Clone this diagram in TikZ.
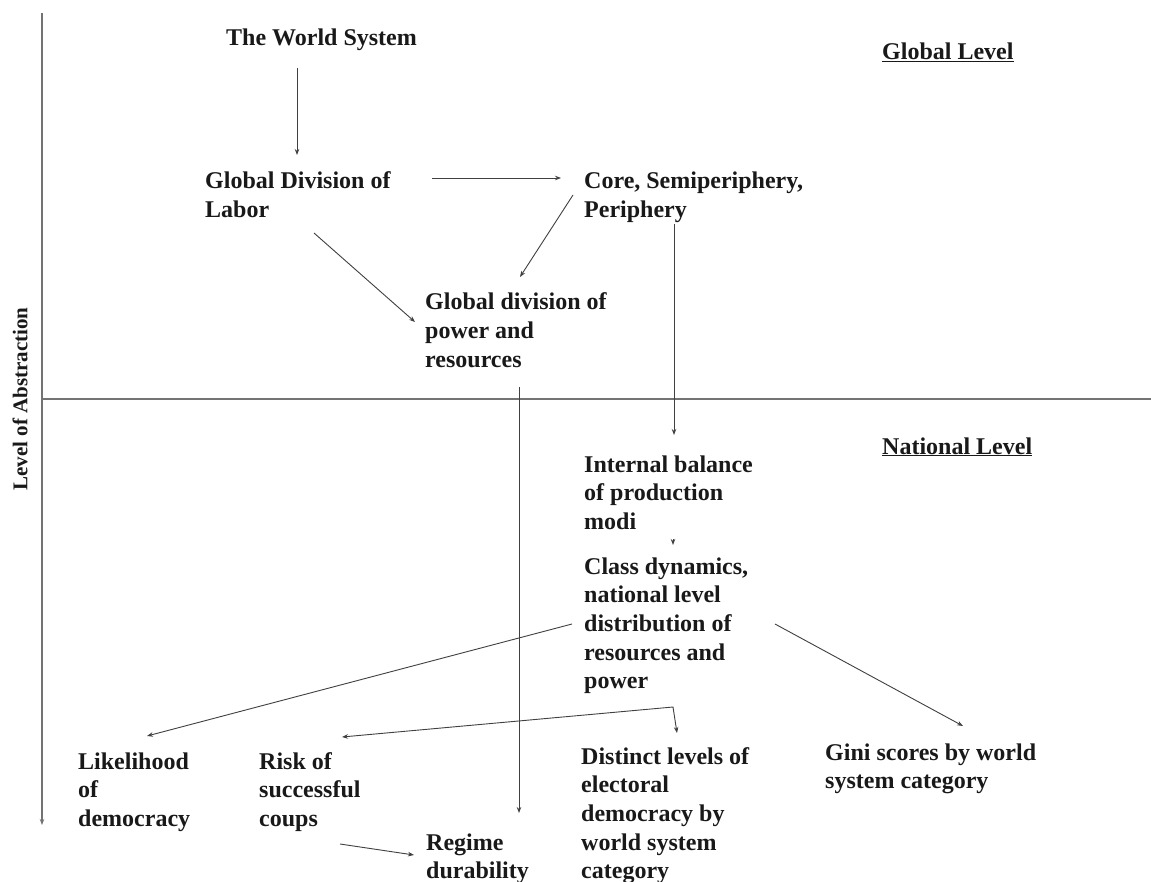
\documentclass[tikz,border=0pt]{standalone}
\usepackage{fontspec}
\setmainfont{Liberation Serif}
\usetikzlibrary{arrows.meta}
\newcommand\mlines[1]{\begin{tabular}[t]{@{}l@{}}#1\end{tabular}}
\begin{document}
\begin{tikzpicture}[x=1pt,y=-1pt,
  lbl/.style={inner sep=0pt, anchor=base west, text=black!90,
    font=\fontsize{24}{28.7}\selectfont\bfseries},
  arr/.style={draw=black!75, line width=0.9pt, -{Stealth[length=6pt,width=4.5pt]}},
  twoarr/.style={draw=black!75, line width=0.9pt, {Stealth[length=6pt,width=4.5pt]}-{Stealth[length=6pt,width=4.5pt]}},
  axisline/.style={draw=black!55, line width=1.2pt}]
\useasboundingbox (0,0) rectangle (1151,882);
\fill[white] (0,0) rectangle (1151,882);
% axes
\draw[axisline, -{Stealth[length=6pt,width=4.5pt]}] (42,13) -- (42,825);
\draw[axisline] (42,399) -- (1151,399);
\node[inner sep=0pt, rotate=90, text=black!90, font=\fontsize{21}{25}\selectfont\bfseries] (loa) at (20,399) {Level of Abstraction};
% level labels
\node[lbl] (gl) at (882,60) {\underline{Global Level}};
\node[lbl] (nl) at (882,454) {\underline{National Level}};
% nodes
\node[lbl] (ws) at (226,46) {The World System};
\node[lbl] (gdl) at (205,189) {\mlines{Global Division of\\Labor}};
\node[lbl] (csp) at (584,189) {\mlines{Core, Semiperiphery,\\Periphery}};
\node[lbl] (gdp) at (425,310) {\mlines{Global division of\\power and\\resources}};
\node[lbl] (ib) at (584,472) {\mlines{Internal balance\\of production\\modi}};
\node[lbl] (cd) at (584,574) {\mlines{Class dynamics,\\national level\\distribution of\\resources and\\power}};
\node[lbl] (lod) at (78,769) {\mlines{Likelihood\\of\\democracy}};
\node[lbl] (risk) at (259,769) {\mlines{Risk of\\successful\\coups}};
\node[lbl] (reg) at (426,850) {\mlines{Regime\\durability}};
\node[lbl] (dist) at (581,764) {\mlines{Distinct levels of\\electoral\\democracy by\\world system\\category}};
\node[lbl] (gini) at (825,760) {\mlines{Gini scores by world\\system category}};
% connectors
\draw[arr] ([shift={(71,22)}]ws.base west) -- ([shift={(92,-34)}]gdl.base west);
\draw[arr] ([shift={(227,-11)}]gdl.base west) -- ([shift={(-23,-11)}]csp.base west);
\draw[arr] ([shift={(-11,6)}]csp.base west) -- ([shift={(95,-33)}]gdp.base west);
\draw[arr] ([shift={(109,44)}]gdl.base west) -- ([shift={(-10,12)}]gdp.base west);
\draw[arr] ([shift={(90,35)}]csp.base west) -- ([shift={(90,-37)}]ib.base west);
\draw[arr] ([shift={(94,77)}]gdp.base west) -- ([shift={(93,-37)}]reg.base west);
\draw[arr] ([shift={(89,67)}]ib.base west) -- ([shift={(89,-29)}]cd.base west);
\draw[arr] ([shift={(-12,50)}]cd.base west) -- ([shift={(69,-33)}]lod.base west);
\draw[arr] ([shift={(191,50)}]cd.base west) -- ([shift={(138,-34)}]gini.base west);
\draw[twoarr] ([shift={(83,-32)}]risk.base west) -- ([shift={(89,133)}]cd.base west) -- ([shift={(96,-31)}]dist.base west);
\draw[arr] ([shift={(81,75)}]risk.base west) -- ([shift={(-12,5)}]reg.base west);
\end{tikzpicture}
\end{document}
